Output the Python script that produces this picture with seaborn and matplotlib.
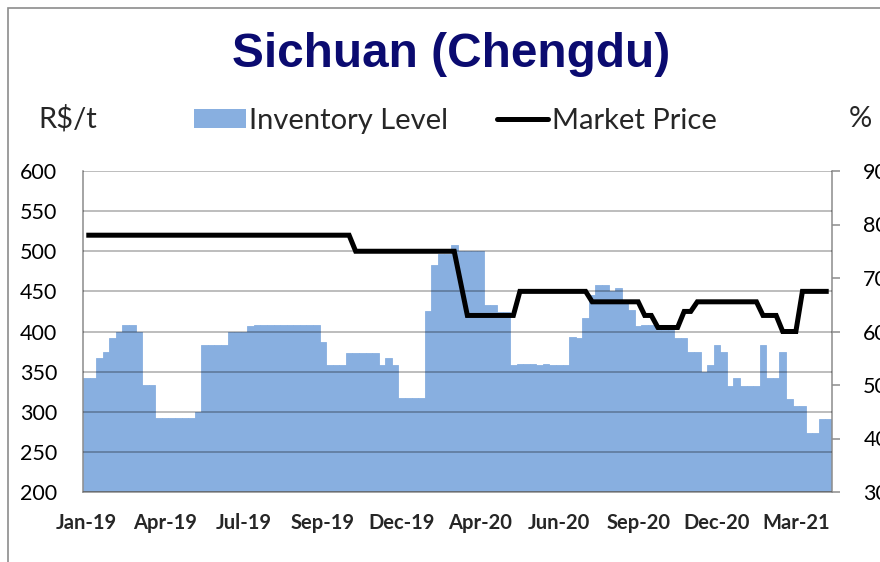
import numpy as np
import pandas as pd
import matplotlib
matplotlib.use("Agg")
import matplotlib.pyplot as plt
import seaborn as sns
from matplotlib.patches import Rectangle, Patch
from matplotlib.lines import Line2D

# ---------------- data (weekly, Jan-19 .. Apr-21) ----------------
inventory_pct = [
    51.25, 51.25, 55.0, 56.25, 58.75, 60.0, 61.25, 61.25, 60.0, 50.0,
    50.0, 43.75, 43.75, 43.75, 43.75, 43.75, 43.75, 45.0, 57.5, 57.5,
    57.5, 57.5, 60.0, 60.0, 60.0, 61.0, 61.25, 61.25, 61.25, 61.25,
    61.25, 61.25, 61.25, 61.25, 61.25, 61.25, 58.0, 53.75, 53.75, 53.75,
    55.9, 55.9, 55.9, 55.9, 55.9, 53.75, 55.0, 53.75, 47.5, 47.5,
    47.5, 47.5, 63.75, 72.5, 74.5, 74.5, 76.2, 75.0, 75.0, 75.0,
    75.0, 65.0, 65.0, 63.6, 63.6, 53.75, 53.9, 53.9, 53.9, 53.75,
    53.9, 53.75, 53.75, 53.75, 58.9, 58.75, 62.5, 66.9, 68.75, 68.75,
    67.6, 68.1, 65.6, 64.1, 61.1, 61.25, 61.25, 60.3, 60.3, 60.3,
    58.75, 58.75, 56.25, 56.25, 52.5, 53.75, 57.5, 56.25, 49.9, 51.25,
    49.9, 49.9, 49.9, 57.5, 51.25, 51.25, 56.25, 47.4, 46.1, 46.1,
    41.1, 41.1, 43.6, 43.6,
]

market_price = [
    520, 520, 520, 520, 520, 520, 520, 520, 520, 520,
    520, 520, 520, 520, 520, 520, 520, 520, 520, 520,
    520, 520, 520, 520, 520, 520, 520, 520, 520, 520,
    520, 520, 520, 520, 520, 520, 520, 520, 520, 520,
    520, 500, 500, 500, 500, 500, 500, 500, 500, 500,
    500, 500, 500, 500, 500, 500, 500, 460, 420, 420,
    420, 420, 420, 420, 420, 420, 450, 450, 450, 450,
    450, 450, 450, 450, 450, 450, 450, 437, 437, 437,
    437, 437, 437, 437, 437, 420, 420, 405, 405, 405,
    405, 425, 425, 437, 437, 437, 437, 437, 437, 437,
    437, 437, 437, 420, 420, 420, 400, 400, 400, 450,
    450, 450, 450, 450,
]

tick_labels = ["Jan-19", "Apr-19", "Jul-19", "Sep-19", "Dec-19",
               "Apr-20", "Jun-20", "Sep-20", "Dec-20", "Mar-21"]
tick_index = [0, 12, 24, 36, 48, 60, 72, 84, 96, 108]

price_ticks = [200, 250, 300, 350, 400, 450, 500, 550, 600]
pct_ticks = [30, 40, 50, 60, 70, 80, 90]

title = "Sichuan (Chengdu)"
series_names = ["Inventory Level", "Market Price"]

# ---------------- styling ----------------
BAR = "#88AFE0"
GRAY = "#8C8C8C"
NAVY = "#0B0B70"

sns.set_theme(style="white")
plt.rcParams["font.family"] = ["Lato", "DejaVu Sans"]

W, H = 880, 562
fig = plt.figure(figsize=(W / 100, H / 100), dpi=100)
fig.patch.set_facecolor("white")

L, R, T, B = 83, 832, 171, 492
ax = fig.add_axes([L / W, 1 - B / H, (R - L) / W, (B - T) / H])
ax2 = ax.twinx()

n = len(inventory_pct)
df = pd.DataFrame({"idx": np.arange(n), "inv": inventory_pct, "price": market_price})

sns.barplot(data=df, x="idx", y="inv", color=BAR, saturation=1, width=1.0,
            linewidth=0.6, edgecolor=BAR, ax=ax)
sns.lineplot(data=df, x="idx", y="price", color="black", linewidth=3.6,
             ax=ax2, solid_joinstyle="miter", solid_capstyle="butt")

# bar axis (right, %)
ax.set_ylim(30, 90)
ax.set_yticks(pct_ticks)
ax.yaxis.tick_right()
ax.tick_params(axis="y", which="both", right=True, left=False, direction="out",
               length=6, width=1.1, color=GRAY, pad=16.5, labelsize=15.5,
               labelcolor="black")
ax.set_xlim(-0.5, n - 0.5)
ax.set_xticks(tick_index)
ax.set_xticklabels(tick_labels, fontweight="bold", fontsize=14.5)
ax.tick_params(axis="x", length=0, pad=15)
ax.set_xlabel("")
ax.set_ylabel("")
for s in ["left", "bottom", "right"]:
    ax.spines[s].set_visible(True)
    ax.spines[s].set_color(GRAY)
    ax.spines[s].set_linewidth(1.1)
ax.spines["top"].set_visible(False)
ax.grid(False)

# price axis (left, R$/t)
ax2.set_ylim(200, 600)
ax2.set_yticks(price_ticks)
ax2.yaxis.tick_left()
ax2.tick_params(axis="y", which="both", left=True, right=False, length=0,
                pad=18.5, labelsize=15.5, labelcolor="black")
ax2.set_xlim(-0.5, n - 0.5)
ax2.set_xlabel("")
ax2.set_ylabel("")
ax2.set_axisbelow(True)
ax2.grid(axis="y", color="black", alpha=0.33, linewidth=1.1)
ax2.grid(axis="x", visible=False)
for s in ax2.spines.values():
    s.set_visible(False)

# figure frame
fig.patches.append(Rectangle((8 / W, -0.5), 1.5, 1 - 8 / H + 0.5,
                             transform=fig.transFigure, fill=False,
                             edgecolor=GRAY, linewidth=1.2, zorder=0))

# title and unit labels
fig.text(451 / W, 1 - 67 / H, title, ha="center", va="baseline",
         fontsize=34.4, fontweight="bold", family="Liberation Sans", color=NAVY)
fig.text(68 / W, 1 - 119 / H, "R$/t", ha="center", va="center", fontsize=21)
fig.text(860 / W, 1 - 119 / H, "%", ha="center", va="center", fontsize=21)

handles = [Patch(facecolor=BAR, edgecolor="none"),
           Line2D([], [], color="black", linewidth=3.6)]
fig.legend(handles, series_names, ncol=2, loc="center left",
           bbox_to_anchor=(194 / W, 1 - 121 / H), frameon=False, fontsize=21,
           handlelength=1.78, handleheight=0.6, handletextpad=0.12,
           columnspacing=1.65, borderpad=0, borderaxespad=0)

fig.savefig("out.png", dpi=100)
